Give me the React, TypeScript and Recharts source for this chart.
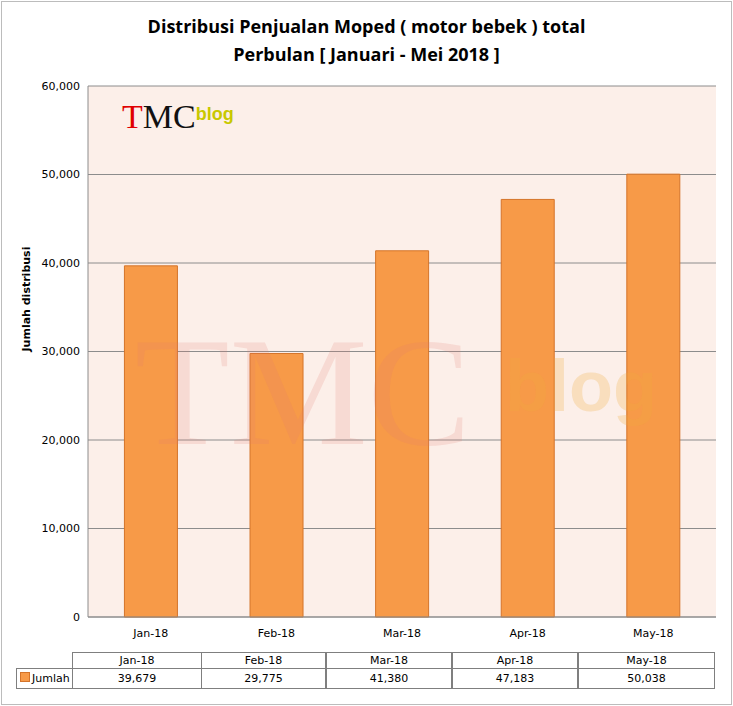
import { BarChart, Bar, XAxis, YAxis, CartesianGrid } from 'recharts'

const months = ['Jan-18', 'Feb-18', 'Mar-18', 'Apr-18', 'May-18']
const jumlah = [39679, 29775, 41380, 47183, 50038]
const yTicks = [0, 10000, 20000, 30000, 40000, 50000, 60000]

const data = months.map((m, i) => ({ month: m, jumlah: jumlah[i] }))

const font = 'Tahoma, "DejaVu Sans", Verdana, sans-serif'
const fmt = (v: number) => v.toLocaleString('en-US')

// table column edges (x px)
const cols = [72, 202, 327, 453, 579, 716]

export default function App() {
  return (
    <div style={{ position: 'absolute', left: 0, top: 0, width: 733, height: 706, background: '#fff', fontFamily: font }}>
      <div style={{ position: 'absolute', left: 1, top: 1, width: 729, height: 702, border: '1px solid #bcbcbc' }} />
      <div style={{ position: 'absolute', top: 12, left: 0, width: 733, textAlign: 'center', fontFamily: '"Open Sans", sans-serif', fontWeight: 700, fontSize: 18, lineHeight: '28px', color: '#000' }}>
        Distribusi Penjualan Moped ( motor bebek ) total<br />
        Perbulan [ Januari - Mei 2018 ]
      </div>
      <BarChart width={733} height={706} data={data} margin={{ top: 86, right: 17, bottom: 64, left: 28 }} barCategoryGap="29%">
        <CartesianGrid vertical={false} stroke="#8c8c8c" fill="#fcefe9" />
        <XAxis dataKey="month" tickLine={false} axisLine={{ stroke: '#8c8c8c' }} tick={{ fontSize: 11, fill: '#000', fontFamily: font }} height={25} tickMargin={6} />
        <YAxis domain={[0, 60000]} ticks={yTicks} tickFormatter={fmt} tickLine={false} axisLine={{ stroke: '#8c8c8c' }} width={60} tick={{ fontSize: 11, fill: '#000', fontFamily: font }}
          label={{ value: 'Jumlah distribusi', angle: -90, position: 'insideLeft', offset: -2, style: { fontSize: 11, fontWeight: 700, fill: '#000', fontFamily: font } }} />
        <Bar dataKey="jumlah" fill="#f79a48" stroke="#d4742a" strokeWidth={1} isAnimationActive={false} />
      </BarChart>
      {/* watermark */}
      <div style={{ position: 'absolute', left: 135, top: 315, fontFamily: '"Liberation Serif", serif', fontSize: 155, color: 'rgba(230,120,110,0.18)', pointerEvents: 'none', lineHeight: 1 }}>TMC</div>
      <div style={{ position: 'absolute', left: 505, top: 350, fontFamily: '"Liberation Sans", sans-serif', fontWeight: 700, fontSize: 72, color: 'rgba(240,170,60,0.25)', pointerEvents: 'none', lineHeight: 1 }}>blog</div>
      <div style={{ position: 'absolute', left: 122, top: 100, fontFamily: '"Liberation Serif", serif', fontSize: 34, lineHeight: 1 }}>
        <span style={{ color: '#e00000' }}>T</span><span style={{ color: '#111' }}>MC</span>
        <span style={{ fontFamily: '"Liberation Sans", sans-serif', fontSize: 18, fontWeight: 700, color: '#c8c800', position: 'relative', top: -8 }}>blog</span>
      </div>
      {/* data table */}
      {months.map((m, i) => (
        <div key={m} style={{ position: 'absolute', left: cols[i], top: 652, width: cols[i + 1] - cols[i], height: 17, border: '1px solid #7f7f7f', boxSizing: 'border-box', fontSize: 11, textAlign: 'center', lineHeight: '16px', marginLeft: i ? -1 : 0 }}>{m}</div>
      ))}
      <div style={{ position: 'absolute', left: 16, top: 668, width: cols[0] - 15, height: 21, border: '1px solid #7f7f7f', boxSizing: 'border-box', fontSize: 11, lineHeight: '19px', paddingLeft: 3 }}>
        <span style={{ display: 'inline-block', width: 8, height: 8, background: '#f79a48', border: '1px solid #d4742a', marginRight: 2 }} />Jumlah
      </div>
      {jumlah.map((v, i) => (
        <div key={i} style={{ position: 'absolute', left: cols[i], top: 668, width: cols[i + 1] - cols[i], height: 21, border: '1px solid #7f7f7f', boxSizing: 'border-box', fontSize: 11, textAlign: 'center', lineHeight: '19px', marginLeft: i ? -1 : 0 }}>{fmt(v)}</div>
      ))}
    </div>
  )
}
